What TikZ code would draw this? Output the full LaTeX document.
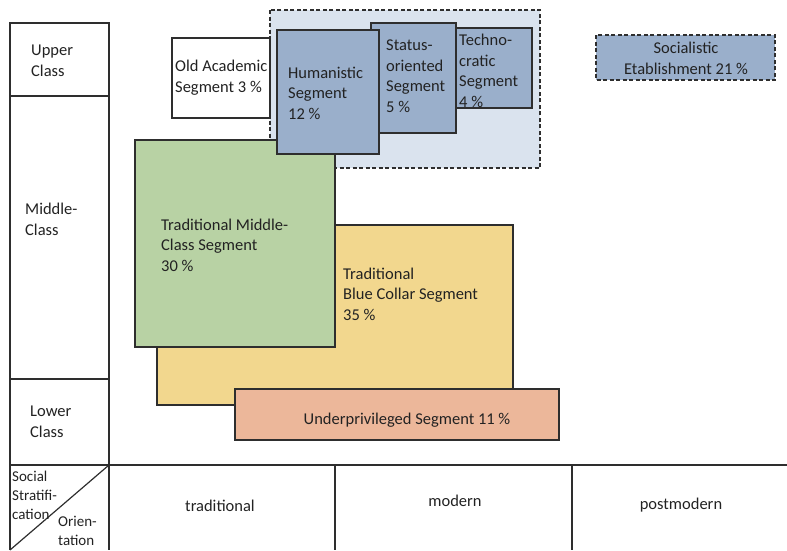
\documentclass[tikz,border=0pt]{standalone}
\usepackage{fontspec}
\setmainfont{Carlito}
\definecolor{segblue}{HTML}{9AAFCB}
\definecolor{eliteblue}{HTML}{DAE3EE}
\definecolor{seggreen}{HTML}{B8D2A4}
\definecolor{segyellow}{HTML}{F2D78E}
\definecolor{segsalmon}{HTML}{ECB79A}
\definecolor{linegray}{HTML}{2E2E2E}
\definecolor{textgray}{HTML}{222222}
\begin{document}
\begin{tikzpicture}[
				x=1pt, y=-1pt,
				every node/.style={
						font=\fontsize{16.5}{20.5}\selectfont,
						text=textgray, inner sep=0pt,
					},
				lbl/.style={anchor=base west, align=left},
				grid/.style={draw=linegray, line width=1.2pt},
				segbox/.style={draw=linegray, line width=1.1pt},
				elite/.style={dash pattern=on 4pt off 2.5pt},]
			\useasboundingbox (0,0) rectangle (787,550);
			% stratification column and orientation row
			\draw [grid] (10,550) -- (10,23) -- (109,23) -- (109,550);
			\draw [grid] (10,96) -- (109,96);
			\draw [grid] (10,379) -- (109,379);
			\draw [grid] (10,465) -- (787,465);
			\draw [grid] (10,550) -- (109,465);
			\foreach \x in {335,572} {
					\draw [grid] (\x,465) -- (\x,550);
				}
			% base anchor sits on the last line
			\node[lbl] (upper) at (31,76) {Upper\\Class};
			\node[lbl] (middle) at (25,235) {Middle-\\Class};
			\node[lbl] (lower) at (30,437) {Lower\\Class};
			\node[lbl, font=\fontsize{15}{19}\selectfont] (strat) at (12,519) {Social\\Stratifi-\\cation};
			\node[lbl, font=\fontsize{15}{18.5}\selectfont] (orient) at (58,545) {Orien-\\tation};
			\node[anchor=base] (trad) at (220,511) {traditional};
			\node[anchor=base] (mod) at (455,506) {modern};
			\node[anchor=base] (postmod) at (681,509) {postmodern};
			% segments
			\draw [segbox, elite, fill=eliteblue] (270,10) rectangle (540,168);
			\draw [segbox, fill=white] (172,38) rectangle (270,118);
			\draw [segbox, fill=segyellow] (157,225) rectangle (513,405);
			\draw [segbox, fill=seggreen] (135,140) rectangle (335,347);
			\draw [segbox, fill=segsalmon] (235,389) rectangle (559,440);
			\draw [segbox, fill=segblue] (371,23) rectangle (456,133);
			\draw [segbox, fill=segblue] (456,28) rectangle (532,108);
			\draw [segbox, fill=segblue] (277,30) rectangle (379,154);
			\draw [segbox, elite, fill=segblue] (596,35) rectangle (775,80);
			\node[lbl] (oldacad) at (175,92) {Old Academic\\Segment 3 \%};
			\node[lbl] (human) at (288,119) {Humanistic\\Segment\\12 \%};
			\node[lbl] (status) at (386,112) {Status-\\oriented\\Segment\\5 \%};
			\node[lbl] (techno) at (459,107) {Techno-\\cratic\\Segment\\4 \%};
			\node[lbl] (tradmid) at (161,271) {Traditional Middle-\\Class Segment\\30 \%};
			\node[lbl] (blue) at (343,320) {Traditional\\Blue Collar Segment\\35 \%};
			\node[anchor=base] (under) at (407,424) {Underprivileged Segment 11 \%};
			\node[anchor=base, align=center] (social) at (686,74) {Socialistic\\Etablishment 21 \%};
		\end{tikzpicture}
\end{document}
